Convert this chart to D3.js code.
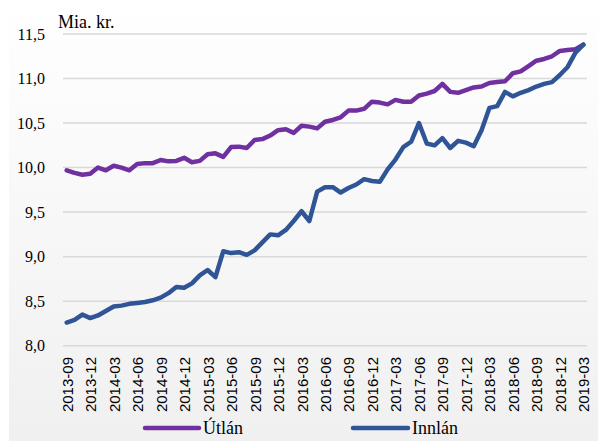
<!DOCTYPE html>
<html><head><meta charset="utf-8">
<script src="https://cdn.jsdelivr.net/npm/d3@7"></script>
<style>body{margin:0;background:#fff}svg{display:block}</style>
</head><body>
<script>
const months = [];
for (let y = 2013, m = 9; !(y === 2019 && m === 4); m++) { if (m > 12) { m = 1; y++; } if (y === 2019 && m === 4) break; months.push(y + "-" + String(m).padStart(2, "0")); }
const tickLabels = ["2013-09","2013-12","2014-03","2014-06","2014-09","2014-12","2015-03","2015-06","2015-09","2015-12","2016-03","2016-06","2016-09","2016-12","2017-03","2017-06","2017-09","2017-12","2018-03","2018-06","2018-09","2018-12","2019-03"];
const utlan = [9.97,9.94,9.92,9.93,10.00,9.97,10.02,10.00,9.97,10.04,10.05,10.05,10.085,10.07,10.075,10.11,10.06,10.075,10.15,10.16,10.12,10.23,10.235,10.22,10.31,10.32,10.36,10.42,10.43,10.39,10.47,10.46,10.44,10.515,10.535,10.565,10.64,10.64,10.66,10.74,10.73,10.71,10.76,10.74,10.74,10.81,10.83,10.86,10.94,10.85,10.84,10.87,10.90,10.91,10.95,10.96,10.97,11.06,11.08,11.14,11.20,11.22,11.25,11.31,11.32,11.33,11.38];
const innlan = [8.26,8.29,8.35,8.31,8.34,8.39,8.44,8.45,8.47,8.48,8.49,8.51,8.54,8.59,8.66,8.65,8.70,8.79,8.85,8.77,9.06,9.04,9.05,9.02,9.07,9.16,9.25,9.24,9.30,9.40,9.51,9.40,9.73,9.78,9.78,9.72,9.77,9.81,9.87,9.85,9.84,9.98,10.09,10.23,10.29,10.50,10.27,10.25,10.33,10.22,10.30,10.28,10.24,10.42,10.67,10.69,10.85,10.80,10.84,10.87,10.91,10.94,10.96,11.04,11.13,11.29,11.38];
const yTicks = [8.0,8.5,9.0,9.5,10.0,10.5,11.0,11.5];
const seriesNames = ["Útlán","Innlán"];
const colors = ["#7030A0","#2F5597"];

const W = 598, H = 441;
const svg = d3.select("body").append("svg").attr("width", W).attr("height", H);
const defs = svg.append("defs");
const g = defs.append("linearGradient").attr("id","bg").attr("x1",0).attr("y1",0).attr("x2",0).attr("y2",1);
g.append("stop").attr("offset","0%").attr("stop-color","#ffffff");
g.append("stop").attr("offset","100%").attr("stop-color","#f0f0f0");
svg.append("rect").attr("x",0).attr("y",0).attr("width",W).attr("height",H).attr("fill","#fff");
svg.append("rect").attr("x",9).attr("y",0).attr("width",W-9).attr("height",H).attr("fill","url(#bg)");

const x = d3.scalePoint().domain(months).range([66.7, 583.3]);
const y = d3.scaleLinear().domain([8, 11.5]).range([345.7, 34]);

// gridlines
svg.append("g").selectAll("line").data(yTicks).join("line")
  .attr("x1", 63).attr("x2", 587).attr("y1", d => y(d)).attr("y2", d => y(d))
  .attr("stroke", "#d9d9d9").attr("stroke-width", 1.5);

// y axis labels
const yAxis = d3.axisLeft(y).tickValues(yTicks).tickSize(0).tickPadding(0)
  .tickFormat(d => d3.format(".1f")(d).replace(".", ","));
const ya = svg.append("g").attr("transform", "translate(45,0)").call(yAxis);
ya.select(".domain").remove();
ya.selectAll("text").attr("font-family", "Liberation Serif, serif").attr("font-size", 16).attr("fill", "#000");

svg.append("text").attr("x", 58).attr("y", 28).text("Mia. kr.")
  .attr("font-family", "Liberation Serif, serif").attr("font-size", 18).attr("fill", "#000");

// x axis labels
const xAxis = d3.axisBottom(x).tickValues(tickLabels).tickSize(0).tickPadding(0);
const xa = svg.append("g").attr("transform", "translate(0,357)").call(xAxis);
xa.select(".domain").remove();
xa.selectAll("text")
  .attr("font-family", "Liberation Sans, Arial, sans-serif").attr("font-size", 15).attr("fill", "#000")
  .attr("text-anchor", "end").attr("dy", null).attr("y", 0).attr("x", 0)
  .attr("transform", "rotate(-90) translate(0,5.5)");

// lines
const line = d3.line().x((d, i) => x(months[i])).y(d => y(d));
[utlan, innlan].forEach((s, k) => {
  svg.append("path").datum(s).attr("d", line).attr("fill", "none")
    .attr("stroke", colors[k]).attr("stroke-width", 4.5)
    .attr("stroke-linejoin", "round").attr("stroke-linecap", "round");
});

// legend
const leg = [{x1:145,x2:199,tx:203},{x1:353,x2:408,tx:412}];
seriesNames.forEach((n, k) => {
  svg.append("line").attr("x1", leg[k].x1).attr("x2", leg[k].x2).attr("y1", 428).attr("y2", 428)
    .attr("stroke", colors[k]).attr("stroke-width", 4.5).attr("stroke-linecap", "round");
  svg.append("text").attr("x", leg[k].tx).attr("y", 434).text(n)
    .attr("font-family", "Liberation Serif, serif").attr("font-size", 18).attr("fill", "#000");
});
</script>
</body></html>
